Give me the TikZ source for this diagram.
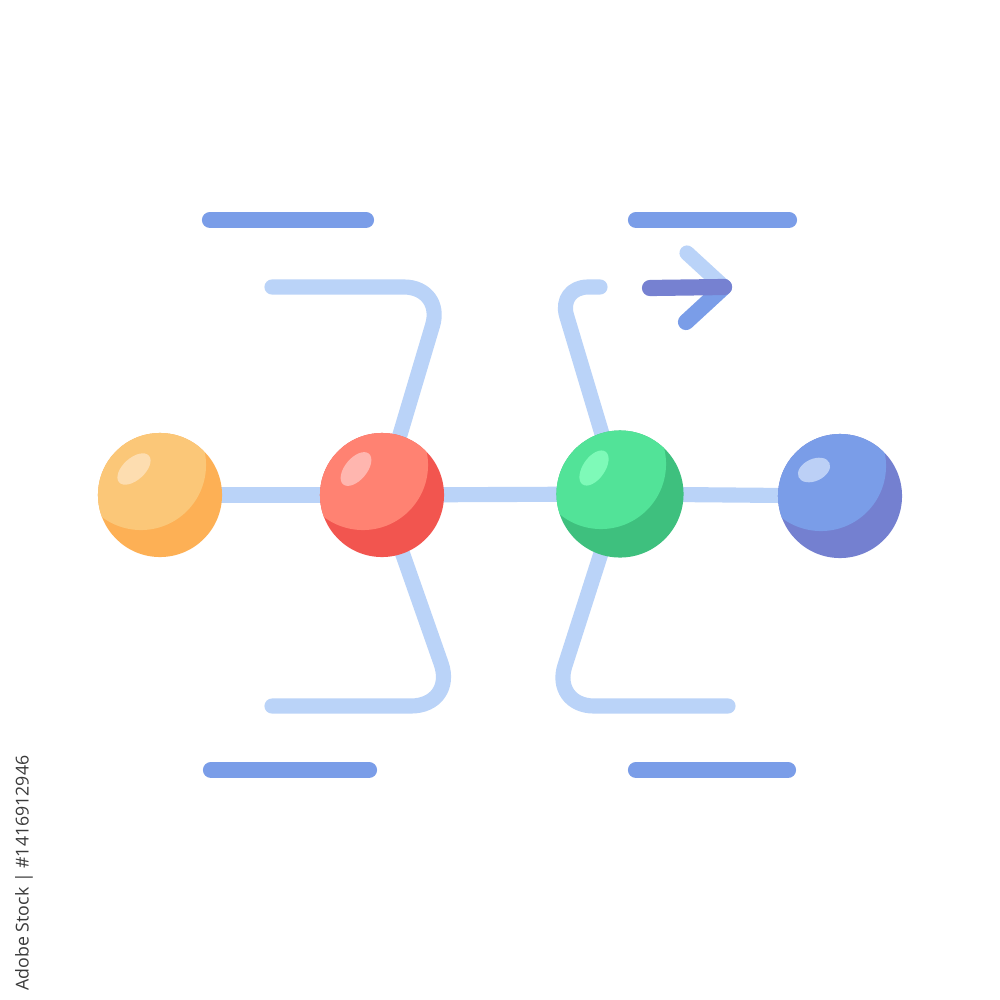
\documentclass[tikz,border=0pt]{standalone}
\usepackage{fontspec}
\newfontfamily\stockfont{Open Sans}
\definecolor{linkblue}{HTML}{BAD3F8}
\definecolor{barblue}{HTML}{7A9DE8}
\definecolor{shaftpurple}{HTML}{7681D1}
\definecolor{orangeL}{HTML}{FBC778}
\definecolor{orangeD}{HTML}{FDB055}
\definecolor{orangeH}{HTML}{FDDDB0}
\definecolor{redL}{HTML}{FF8272}
\definecolor{redD}{HTML}{F2554F}
\definecolor{redH}{HTML}{FFB6AF}
\definecolor{greenL}{HTML}{52E398}
\definecolor{greenD}{HTML}{3EC07E}
\definecolor{greenH}{HTML}{7EFAB8}
\definecolor{blueL}{HTML}{7A9DE8}
\definecolor{blueD}{HTML}{7480D0}
\definecolor{blueH}{HTML}{BCD0F6}
\definecolor{idgray}{HTML}{3A3A3A}
\newcommand\ballfill[7]{% name, radius(cm), light, dark, highlight, rot, hl x radius
  \fill[#4] (#1.center) circle[radius=#2cm];
  \begin{scope}
    \clip (#1.center) circle[radius=#2cm];
    \fill[#3] ([shift={(-19,-30)}]#1.center) circle[radius=0.65cm];
  \end{scope}
  \fill[#5] ([shift={(-26,-26)}]#1.center) circle[x radius=#7cm, y radius=0.11cm, rotate=#6];
}
\begin{document}
\begin{tikzpicture}[x=0.01cm,y=-0.01cm]
\tikzset{
  ball/.style={circle,minimum size=1.24cm,inner sep=0pt,outer sep=0pt},
  conn/.style={draw=linkblue,line width=4.3pt,line cap=round,line join=round},
  bar/.style={draw=barblue,line width=4.6pt,line cap=round}
}
\fill[white] (0,0) rectangle (1000,1000);
\useasboundingbox (0,0) rectangle (1000,1000);
% sphere nodes
\node[ball] (o) at (160,495) {};
\node[ball] (r) at (382,495) {};
\node[ball,minimum size=1.27cm] (g) at (620,494) {};
\node[ball] (b) at (840,496) {};
% free ends
\coordinate (ulc) at (444,287);
\coordinate (ule) at (272,287);
\coordinate (llc) at (456,706);
\coordinate (lle) at (272,706);
\coordinate (urc) at (558,287);
\coordinate (ure) at (600,287);
\coordinate (lrc) at (552,706);
\coordinate (lre) at (728,706);
% connectors
\draw[conn] (o) -- (r);
\draw[conn] (r) -- (g);
\draw[conn] (g) -- (b);
\draw[conn,rounded corners=0.4cm] (r) -- (ulc) -- (ule);
\draw[conn,rounded corners=0.45cm] (r) -- (llc) -- (lle);
\draw[conn,rounded corners=0.3cm] (g) -- (urc) -- (ure);
\draw[conn,rounded corners=0.42cm] (g) -- (lrc) -- (lre);
% spheres
\ballfill{o}{0.62}{orangeL}{orangeD}{orangeH}{42}{0.2}
\ballfill{r}{0.62}{redL}{redD}{redH}{50}{0.2}
\ballfill{g}{0.635}{greenL}{greenD}{greenH}{55}{0.2}
\ballfill{b}{0.62}{blueL}{blueD}{blueH}{25}{0.17}
% text bars
\draw[bar] (210,220) -- (366,220);
\draw[bar] (636,220) -- (789,220);
\draw[bar] (211,770) -- (369,770);
\draw[bar] (636,770) -- (788,770);
% arrow
\coordinate (tip) at (724,287);
\coordinate (headup) at (687,253);
\coordinate (headdn) at (686,322);
\coordinate (tail) at (650,288);
\draw[conn] (headup) -- (tip);
\draw[bar] (headdn) -- (tip);
\draw[bar,draw=shaftpurple] (tail) -- (tip);
% stock id
\node[rotate=90,text=idgray,inner sep=0pt] (sid) at (24,873) {\stockfont\fontsize{5.05}{6}\selectfont Adobe Stock | \#1416912946};
\end{tikzpicture}
\end{document}
